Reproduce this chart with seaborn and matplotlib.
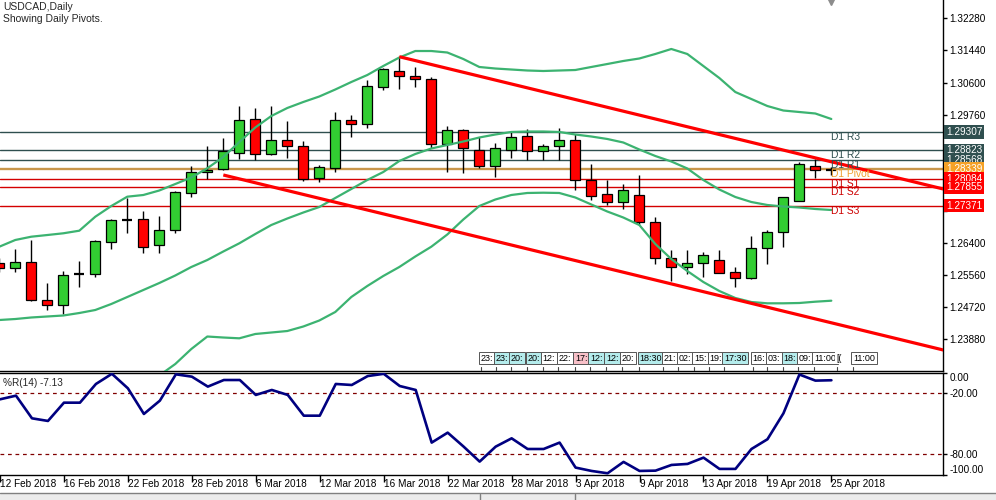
import matplotlib
matplotlib.use("Agg")
import matplotlib.pyplot as plt
import matplotlib.transforms as mtrans
from matplotlib.patches import Rectangle
from matplotlib.lines import Line2D
import numpy as np
import pandas as pd
import seaborn as sns

# ---------------- data ----------------
opens = [1.25885, 1.25738, 1.25895, 1.24909, 1.24770, 1.25581, 1.25581, 1.26434, 1.27010, 1.27020,
         1.26340, 1.26732, 1.27716, 1.28250, 1.28329, 1.28747, 1.29637, 1.28721, 1.29088, 1.28930,
         1.28088, 1.28371, 1.29619, 1.29506, 1.30490, 1.30893, 1.30762, 1.30684, 1.28983, 1.29349,
         1.28826, 1.28423, 1.28834, 1.29192, 1.28808, 1.28930, 1.29095, 1.28049, 1.27677, 1.27460,
         1.27648, 1.26942, 1.25999, 1.25780, 1.25869, 1.25947, 1.25633, 1.25476, 1.26261, 1.26680,
         1.27499, 1.28423, 1.28310]
highs = [1.26008, 1.26235, 1.26479, 1.25361, 1.25667, 1.25929, 1.26479, 1.27020, 1.27570, 1.27238,
         1.27107, 1.27761, 1.28415, 1.28938, 1.29140, 1.29985, 1.29925, 1.29985, 1.29600, 1.29069,
         1.28441, 1.29836, 1.29750, 1.30666, 1.30970, 1.31275, 1.31013, 1.30736, 1.29462, 1.29383,
         1.29166, 1.29009, 1.29339, 1.29375, 1.28991, 1.29402, 1.29252, 1.28467, 1.28049, 1.27944,
         1.28180, 1.27073, 1.26217, 1.26217, 1.26165, 1.26217, 1.25780, 1.26583, 1.26740, 1.27612,
         1.28528, 1.28594, 1.28397]
lows = [1.25641, 1.25649, 1.24890, 1.24647, 1.24534, 1.25257, 1.25518, 1.26235, 1.26670, 1.26131,
        1.26131, 1.26654, 1.27596, 1.28075, 1.28310, 1.28598, 1.28572, 1.28703, 1.28632, 1.28030,
        1.28004, 1.28266, 1.29182, 1.29417, 1.30404, 1.30438, 1.30490, 1.28894, 1.28266, 1.28224,
        1.28355, 1.28119, 1.28617, 1.28572, 1.28572, 1.28572, 1.27774, 1.27533, 1.27395, 1.27298,
        1.26871, 1.25851, 1.25414, 1.25589, 1.25503, 1.25607, 1.25257, 1.25450, 1.25843, 1.26303,
        1.27499, 1.28110, 1.28180]
closes = [1.25738, 1.25895, 1.24909, 1.24770, 1.25555, 1.25581, 1.26445, 1.26994, 1.27010, 1.26288,
          1.26732, 1.27727, 1.28250, 1.28310, 1.28808, 1.29611, 1.28721, 1.29088, 1.28930, 1.28075,
          1.28376, 1.29611, 1.29506, 1.30508, 1.30945, 1.30762, 1.30684, 1.28983, 1.29349, 1.28894,
          1.28407, 1.28878, 1.29166, 1.28808, 1.28930, 1.29095, 1.28041, 1.27643, 1.27460, 1.27779,
          1.26942, 1.25999, 1.25780, 1.25869, 1.26078, 1.25623, 1.25476, 1.26261, 1.26680, 1.27612,
          1.28460, 1.28313, 1.28310]

bb_upper = [1.26303, 1.26479, 1.26565, 1.26609, 1.26654, 1.26722, 1.27088, 1.27368, 1.27612, 1.27656,
            1.27774, 1.27944, 1.28114, 1.28355, 1.28651, 1.29043, 1.29423, 1.29723, 1.29933, 1.30090,
            1.30234, 1.30417, 1.30613, 1.30796, 1.31032, 1.31254, 1.31424, 1.31424, 1.31385, 1.31215,
            1.31006, 1.30966, 1.30940, 1.30914, 1.30901, 1.30914, 1.30927, 1.31006, 1.31084, 1.31163,
            1.31228, 1.31346, 1.31477, 1.31346, 1.31032, 1.30718, 1.30351, 1.30168, 1.29985, 1.29867,
            1.29828, 1.29789, 1.29645]
bb_middle = [1.24385, 1.24411, 1.24451, 1.24477, 1.24503, 1.24568, 1.24647, 1.24804, 1.24987, 1.25170,
             1.25353, 1.25550, 1.25772, 1.25955, 1.26178, 1.26392, 1.26636, 1.26871, 1.27041, 1.27198,
             1.27342, 1.27578, 1.27813, 1.28049, 1.28258, 1.28546, 1.28729, 1.28873, 1.28965, 1.29056,
             1.29161, 1.29239, 1.29305, 1.29318, 1.29318, 1.29305, 1.29239, 1.29187, 1.29122, 1.29030,
             1.28847, 1.28677, 1.28533, 1.28350, 1.28049, 1.27800, 1.27604, 1.27473, 1.27395, 1.27355,
             1.27329, 1.27290, 1.27264]
bb_lower = [1.22467, 1.22344, 1.22336, 1.22344, 1.22352, 1.22415, 1.22205, 1.22239, 1.22362, 1.22684,
            1.22933, 1.23234, 1.23626, 1.23953, 1.23927, 1.23906, 1.24019, 1.24058, 1.24097, 1.24215,
            1.24372, 1.24595, 1.24987, 1.25275, 1.25537, 1.25772, 1.26047, 1.26303, 1.26623, 1.27015,
            1.27368, 1.27538, 1.27656, 1.27709, 1.27716, 1.27709, 1.27591, 1.27408, 1.27224, 1.27067,
            1.26871, 1.26374, 1.25981, 1.25667, 1.25380, 1.25144, 1.24961, 1.24856, 1.24822, 1.24822,
            1.24830, 1.24864, 1.24890]

wpr = [-25.9, -22.3, -44.6, -47.2, -29.2, -29.2, -10.8, -0.8, -15.1, -40.3,
       -27.2, -1.3, -3.6, -13.4, -6.9, -6.9, -21.6, -16.7, -21.6, -42.0,
       -42.0, -10.8, -11.8, -3.0, -0.8, -12.8, -16.7, -68.5, -58.7, -72.5,
       -87.2, -72.5, -64.3, -74.8, -74.8, -68.5, -93.1, -96.4, -98.7, -87.5,
       -96.4, -96.1, -90.5, -89.5, -83.3, -94.4, -94.4, -74.8, -65.2, -39.7,
       -1.5, -7.5, -7.13]

pivot_names = ["D1 R3", "D1 R2", "D1 R1", "D1 Pivot", "D1 S1", "D1 S2", "D1 S3"]
pivot_values = [1.29307, 1.28823, 1.28568, 1.28339, 1.28084, 1.27855, 1.27371]
pivot_labels = ["1.29307", "1.28823", "1.28568", "1.28339", "1.28084", "1.27855", "1.27371"]

price_ticks = [1.32280, 1.31440, 1.30600, 1.29760, 1.28920, 1.28080, 1.27240,
               1.26400, 1.25560, 1.24720, 1.23880]
# tick labels hidden behind the pivot price boxes in the reference
price_ticks_covered = [1.28920, 1.28080, 1.27240]

date_tick_bars = [0, 4, 8, 12, 16, 20, 24, 28, 32, 36, 40, 44, 48, 52]
date_tick_labels = ["12 Feb 2018", "16 Feb 2018", "22 Feb 2018", "28 Feb 2018", "6 Mar 2018",
                    "12 Mar 2018", "16 Mar 2018", "22 Mar 2018", "28 Mar 2018", "3 Apr 2018",
                    "9 Apr 2018", "13 Apr 2018", "19 Apr 2018", "25 Apr 2018"]

wpr_ticks = [0, -20, -80, -100]
wpr_tick_labels = ["0.00", "-20.00", "-80.00", "-100.00"]

trend_upper_bars = [25, 59]
trend_upper_prices = [1.31275, 1.27813]
trend_lower_bars = [14, 59]
trend_lower_prices = [1.28180, 1.23600]

event_bars = [30.09, 31.04, 31.98, 33.0, 33.96, 34.94, 35.98, 36.92, 37.92, 38.9, 40.0, 41.5,
              42.44, 43.42, 44.38, 45.29, 47.09, 48.0, 49.0, 49.94, 50.92, 52.34, 53.36]
event_labels = ["23:", "23:", "20:", "20:", "12:", "22:", "17:", "12:", "12:", "20:", "18:30", "21:",
                "02:", "15:", "19:", "17:30", "16:", "03:", "18:", "09:", "11:00", "[(", "11:00"]
event_kinds = ["w", "c", "c", "c", "w", "w", "p", "c", "c", "w", "c", "w",
               "w", "w", "w", "c", "w", "w", "c", "w", "w", "n", "w"]

# ---------------- style ----------------
sns.set_theme(style="white")
plt.rcParams["font.family"] = ["Liberation Sans", "DejaVu Sans"]
plt.rcParams["axes.edgecolor"] = "black"
plt.rcParams["axes.linewidth"] = 1.0

W, H = 996, 500
fig = plt.figure(figsize=(W / 100, H / 100), dpi=100)
fig.patch.set_facecolor("white")

ax = fig.add_axes([0, (H - 371) / H, 943 / W, 371 / H])
ax2 = fig.add_axes([0, (H - 474.6) / H, 943 / W, 101.6 / H])

df = pd.DataFrame({"bar": np.arange(len(opens)), "open": opens, "high": highs,
                   "low": lows, "close": closes, "upper": bb_upper,
                   "middle": bb_middle, "lower": bb_lower, "wpr": wpr})

xlim = (0.044, 58.98)
ax.set_xlim(*xlim)
ax.set_ylim(1.230506, 1.327589)
ax2.set_xlim(*xlim)
ax2.set_ylim(-100, 0)

# pivot lines
line_colors = ["#2F4F4F", "#2F4F4F", "#2F4F4F", "#C8964B", "#D40000", "#D40000", "#D40000"]
line_widths = [1.0, 1.0, 1.0, 1.7, 1.0, 1.0, 1.0]
text_colors = ["#2F4F4F", "#2F4F4F", "#2F4F4F", "#F0A030", "#CC0000", "#CC0000", "#CC0000"]
box_colors = ["#2F4F4F", "#2F4F4F", "#2F4F4F", "#F5A126", "#FF0000", "#FF0000", "#FF0000"]
for name, val, lab, lc, lw, tc, bc in zip(pivot_names, pivot_values, pivot_labels,
                                         line_colors, line_widths, text_colors, box_colors):
    ax.axhline(val, color=lc, lw=lw, zorder=2)
    ax.text(52.0, val, name, color=tc, fontsize=7.4, ha="left", va="top", zorder=6)
    ax.text(1.003, val, lab, transform=mtrans.blended_transform_factory(ax.transAxes, ax.transData),
            color="white", fontsize=7.2, ha="left", va="center", zorder=8, clip_on=False,
            bbox=dict(boxstyle="square,pad=0.16", fc=bc, ec="none"))

# Bollinger bands
for col in ["upper", "middle", "lower"]:
    sns.lineplot(data=df, x="bar", y=col, ax=ax, color="#3CB371", lw=1.6, zorder=4)

# candles
x = df["bar"].values
o = df["open"].values
c = df["close"].values
up = c > o
down = c < o
doji = c == o
ax.vlines(x, df["low"], df["high"], color="black", lw=1.0, zorder=3)
bottoms = np.minimum(o, c)
heights = np.abs(c - o)
ax.bar(x[up], heights[up], bottom=bottoms[up], width=0.62, color="#32CD32",
       edgecolor="black", linewidth=0.9, zorder=3.5)
ax.bar(x[down], heights[down], bottom=bottoms[down], width=0.62, color="#FF0000",
       edgecolor="black", linewidth=0.9, zorder=3.5)
ax.hlines(o[doji], x[doji] - 0.31, x[doji] + 0.31, color="black", lw=1.6, zorder=3.5)

# trend lines
ax.plot(trend_upper_bars, trend_upper_prices, color="#FF0000", lw=2.3, zorder=5,
        solid_capstyle="butt")
ax.plot(trend_lower_bars, trend_lower_prices, color="#FF0000", lw=2.3, zorder=5,
        solid_capstyle="butt")

# axes styling (main)
for s in ["top", "left"]:
    ax.spines[s].set_visible(False)
ax.spines["right"].set_color("black")
ax.spines["bottom"].set_color("black")
ax.yaxis.tick_right()
ax.set_yticks(price_ticks)
ax.set_yticklabels(["" if t in price_ticks_covered else f"{t:.5f}" for t in price_ticks])
ax.tick_params(axis="y", direction="out", length=3, width=1, labelsize=7.2, pad=1.5,
               colors="black", right=True, left=False)
ax.set_xticks([])
ax.set_xlabel("")
ax.set_ylabel("")

# event labels
kind_colors = {"w": "white", "c": "#B4ECEC", "p": "#F8C0C8", "n": "white"}
bt = mtrans.blended_transform_factory(ax.transData, ax.transAxes)
for eb, el, ek in zip(event_bars, event_labels, event_kinds):
    ax.text(eb, 0.035, el, transform=bt, fontsize=6.5, ha="left", va="center", color="black",
            zorder=7, bbox=dict(boxstyle="square,pad=0.2", fc=kind_colors[ek],
                                ec="#555555" if ek != "n" else "none", lw=0.7))
    ax.plot([eb, eb], [0.0, 0.012], transform=bt, color="#444444", lw=0.8, zorder=7)

# shift marker
ax.plot([52], [1.0], transform=bt, marker="v", ms=7.5, color="#8C8C8C", clip_on=False, zorder=9)

# Williams %R panel
ax2.axhline(-20, color="#800000", lw=0.9, ls=(0, (3, 3)))
ax2.axhline(-80, color="#800000", lw=0.9, ls=(0, (3, 3)))
sns.lineplot(data=df, x="bar", y="wpr", ax=ax2, color="#000080", lw=1.9, zorder=4)
ax2.spines["left"].set_visible(False)
for s in ["top", "right", "bottom"]:
    ax2.spines[s].set_color("black")
ax2.yaxis.tick_right()
ax2.set_yticks(wpr_ticks)
ax2.set_yticklabels(wpr_tick_labels)
ax2.tick_params(axis="y", direction="out", length=3, width=1, labelsize=7.2, pad=1.5,
                colors="black", right=True, left=False)
yl = ax2.get_yticklabels()
yl[0].set_va("top")
yl[-1].set_va("bottom")
ax2.set_xticks(date_tick_bars)
ax2.set_xticklabels(date_tick_labels)
ax2.tick_params(axis="x", direction="out", length=5, width=1, labelsize=7.2, pad=-1.5,
                colors="black", bottom=True)
for t in ax2.get_xticklabels():
    t.set_ha("left")
ax2.set_xlabel("")
ax2.set_ylabel("")

# texts
fig.text(3 / W, 1 - 7.5 / H, "USDCAD,Daily", fontsize=7.5, va="center", ha="left")
fig.text(3 / W, 1 - 19.5 / H, "Showing Daily Pivots.", fontsize=7.5, va="center", ha="left")
fig.text(3 / W, 1 - 383 / H, "%R(14) -7.13", fontsize=7.2, va="center", ha="left")

# bottom tab strip
fig.add_artist(Rectangle((0, 0), 1, 7 / H, transform=fig.transFigure, fc="#ECECEC", ec="none"))
fig.add_artist(Line2D([0, 1], [7 / H, 7 / H], transform=fig.transFigure, color="#808080", lw=1))
for tx in [480, 575]:
    fig.add_artist(Line2D([tx / W, tx / W], [0, 6 / H], transform=fig.transFigure,
                          color="#808080", lw=1))

fig.savefig("out.png", dpi=100, facecolor="white")
